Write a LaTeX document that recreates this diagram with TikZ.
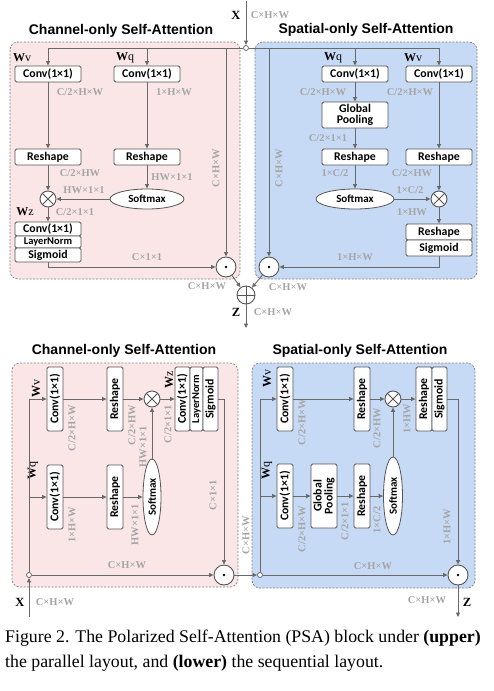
\documentclass[tikz,border=0pt]{standalone}
\usepackage{fontspec}
\setmainfont{Liberation Serif}
\newfontfamily\boxff{Carlito}
\newfontfamily\titleff{Liberation Sans}
\usetikzlibrary{arrows.meta,shapes.geometric,calc}
\definecolor{pinkbg}{RGB}{250,230,230}
\definecolor{bluebg}{RGB}{198,217,245}
\definecolor{lnc}{RGB}{105,105,105}
\definecolor{bxc}{RGB}{85,85,85}
\definecolor{lblc}{RGB}{165,165,165}
\definecolor{dashc}{RGB}{130,130,130}
\tikzset{
 bgbox/.style={draw=dashc, dash pattern=on 2pt off 1.5pt, line width=0.7pt, rounded corners=8pt},
 ttl/.style={inner sep=0pt, font={\titleff\bfseries\fontsize{14}{15}\selectfont}},
 bx/.style={draw=bxc, fill=white, rounded corners=1.5pt, line width=0.8pt, inner sep=0pt,
   font={\boxff\bfseries\fontsize{11.8}{12}\selectfont}, minimum width=66pt, minimum height=16pt},
 smallbx/.style={bx, font={\boxff\bfseries\fontsize{10.5}{11}\selectfont}},
 rbx/.style={bx, rotate=90, minimum width=64pt},
 elp/.style={ellipse, draw=bxc, fill=white, line width=0.8pt, inner sep=0pt,
   font={\boxff\bfseries\fontsize{11}{12}\selectfont}},
 ln/.style={draw=lnc, line width=0.9pt},
 arr/.style={ln, -{Triangle[length=4.5pt,width=4pt]}},
 spt/.style={circle, draw=lnc, fill=white, line width=0.8pt, inner sep=0pt, minimum size=5pt},
 odt/.style={circle, draw=bxc, fill=white, line width=0.9pt, inner sep=0pt, minimum size=20pt,
   path picture={\fill[black] (path picture bounding box.center) circle (1.3pt);}},
 otm/.style={circle, draw=bxc, fill=white, line width=0.9pt, inner sep=0pt, minimum size=16pt,
   path picture={\draw[bxc, line width=0.9pt] (path picture bounding box.south west) -- (path picture bounding box.north east) (path picture bounding box.north west) -- (path picture bounding box.south east);}},
 opl/.style={circle, draw=bxc, fill=white, line width=0.9pt, inner sep=0pt, minimum size=18pt,
   path picture={\draw[bxc, line width=0.9pt] (path picture bounding box.north) -- (path picture bounding box.south) (path picture bounding box.west) -- (path picture bounding box.east);}},
 lbl/.style={text=lblc, inner sep=0pt, font={\bfseries\fontsize{10.5}{11}\selectfont}},
 vlbl/.style={lbl, rotate=90},
 wl/.style={inner sep=0pt, font={\fontsize{12}{12}\selectfont}},
 vwl/.style={wl, rotate=90},
 xl/.style={inner sep=0pt, font={\bfseries\fontsize{12.5}{13}\selectfont}},
 captxt/.style={inner sep=0pt, font={\fontsize{17.8}{20}\selectfont}}
}
\begin{document}
\begin{tikzpicture}[x=1pt,y=-1pt]
\useasboundingbox (0,0) rectangle (494,691);
% backgrounds
\draw[bgbox, fill=pinkbg] (10,42) rectangle (240,279);
\draw[bgbox, fill=bluebg] (255,42) rectangle (477,279);
\draw[bgbox, fill=pinkbg] (12,363) rectangle (238,587);
\draw[bgbox, fill=bluebg] (252,363) rectangle (475,588);
% titles
\node[ttl] (t1) at (121,31) {Channel-only Self-Attention};
\node[ttl] (t2) at (366,30) {Spatial-only Self-Attention};
\node[ttl] (t3) at (124,351) {Channel-only Self-Attention};
\node[ttl] (t4) at (360,351) {Spatial-only Self-Attention};

% ===== UPPER =====
\coordinate (xin) at (246,1);
\node[spt] (sp1) at (246,48) {};
\node[xl] (xlab) at (236,15) {X};
\node[lbl] (xdim) at (270,15) {C×H×W};
% left nodes
\node[bx] (cv1) at (48,74) {Conv(1×1)};
\node[bx] (cq1) at (147,74) {Conv(1×1)};
\node[wl] (wv1) at (22,58) {\textbf{W}v};
\node[wl] (wq1) at (125,58) {\textbf{W}q};
\node[lbl] at (80,92) {C/2×H×W};
\node[lbl] at (174,92) {1×H×W};
\node[bx] (rs1) at (48,157) {Reshape};
\node[bx] (rs2) at (147,157) {Reshape};
\node[lbl] at (80,173) {C/2×HW};
\node[lbl] at (172,177) {HW×1×1};
\node[lbl] at (84,190) {HW×1×1};
\node[otm] (ot1) at (48,199) {};
\node[elp, minimum width=74pt, minimum height=20pt] (sm1) at (147,199) {Softmax};
\node[wl] (wz1) at (25,212) {\textbf{W}z};
\node[lbl] at (75,212) {C/2×1×1};
\node[bx, minimum height=14pt] (cz1) at (48,229) {Conv(1×1)};
\node[smallbx, minimum height=12pt] (ln1) at (48,242) {LayerNorm};
\node[bx, minimum height=14pt] (sg1) at (48,255) {Sigmoid};
\node[odt] (od1) at (226,267) {};
\node[lbl] at (147,257) {C×1×1};
\node[vlbl] at (216,168) {C×H×W};
% right nodes
\node[bx] (cq2) at (355,74) {Conv(1×1)};
\node[bx] (cv2) at (439,74) {Conv(1×1)};
\node[wl] (wq2) at (333,58) {\textbf{W}q};
\node[wl] (wv2) at (413,58) {\textbf{W}v};
\node[lbl] at (323,92) {C/2×H×W};
\node[lbl] at (410,92) {C/2×H×W};
\node[bx, minimum height=26pt, align=center] (gp1) at (355,115) {Global\\[-1pt]Pooling};
\node[lbl] at (328,138) {C/2×1×1};
\node[bx] (rs3) at (355,157) {Reshape};
\node[bx] (rs4) at (439,157) {Reshape};
\node[lbl] at (335,173) {1×C/2};
\node[lbl] at (412,173) {C/2×HW};
\node[elp, minimum width=78pt, minimum height=20pt] (sm2) at (355,199) {Softmax};
\node[otm] (ot2) at (439,199) {};
\node[lbl] at (410,190) {1×C/2};
\node[lbl] at (412,212) {1×HW};
\node[bx] (rs5) at (439,232) {Reshape};
\node[bx] (sg2) at (439,248) {Sigmoid};
\node[odt] (od2) at (269,267) {};
\node[lbl] at (355,257) {1×H×W};
\node[vlbl] at (279,168) {C×H×W};
% fusion
\node[opl] (op1) at (246,295) {};
\coordinate (zout1) at (246,328);
\node[lbl] at (207,286) {C×H×W};
\node[lbl] at (288,287) {C×H×W};
\node[xl] (zlab1) at (236,312) {Z};
\node[lbl] at (273,312) {C×H×W};
% junctions
\coordinate (a1) at (48,48);
\coordinate (a2) at (147,48);
\coordinate (a3) at (226,48);
\coordinate (a4) at (269,48);
\coordinate (a5) at (355,48);
\coordinate (a6) at (439,48);
% connectors upper
\draw[arr] (xin) -- (sp1);
\draw[ln] (sp1) -- (a1);
\draw[ln] (sp1) -- (a6);
\draw[arr] (a1) -- (cv1);
\draw[arr] (a2) -- (cq1);
\draw[arr] (a3) -- (od1);
\draw[arr] (a4) -- (od2);
\draw[arr] (a5) -- (cq2);
\draw[arr] (a6) -- (cv2);
\draw[arr] (cv1) -- (rs1);
\draw[arr] (rs1) -- (ot1);
\draw[arr] (cq1) -- (rs2);
\draw[arr] (rs2) -- (sm1);
\draw[arr] (sm1) -- (ot1);
\draw[arr] (ot1) -- (cz1);
\draw[arr] (sg1) |- (od1);
\draw[arr] (cq2) -- (gp1);
\draw[arr] (gp1) -- (rs3);
\draw[arr] (rs3) -- (sm2);
\draw[arr] (sm2) -- (ot2);
\draw[arr] (cv2) -- (rs4);
\draw[arr] (rs4) -- (ot2);
\draw[arr] (ot2) -- (rs5);
\draw[arr] (sg2) |- (od2);
\draw[arr] (od1) -- (op1);
\draw[arr] (od2) -- (op1);
\draw[arr] (op1) -- (zout1);

% ===== LOWER =====
\coordinate (xin2) at (29,617);
\node[spt] (sp2) at (29,575) {};
\node[xl] (xlab2) at (20,602) {X};
\node[lbl] at (55,602) {C×H×W};
\coordinate (j1) at (29,399);
\coordinate (j2) at (29,497);
% left
\node[rbx] (cv3) at (55,399) {Conv(1×1)};
\node[vwl] (wv3) at (36,388) {\textbf{W}v};
\node[vlbl] at (72,428) {C/2×H×W};
\node[rbx] (rs6) at (115,399) {Reshape};
\node[vlbl] at (132,425) {C/2×HW};
\node[vlbl] at (143,447) {HW×1×1};
\node[otm] (ot3) at (152,399) {};
\node[vwl] (wz3) at (169,380) {\textbf{W}z};
\node[vlbl] at (168,424) {C/2×1×1};
\node[rbx, minimum height=15pt] (cz3) at (182.5,399) {Conv(1×1)};
\node[smallbx, rotate=90, minimum width=64pt, minimum height=13pt] (ln3) at (196.5,399) {LayerNorm};
\node[rbx, minimum height=15pt] (sg3) at (210.5,399) {Sigmoid};
\node[vlbl] at (213,495) {C×1×1};
\node[rbx] (cq3) at (55,497) {Conv(1×1)};
\node[vwl] (wq3) at (33,470) {\textbf{W}q};
\node[vlbl] at (72,525) {1×H×W};
\node[rbx] (rs7) at (115,497) {Reshape};
\node[vlbl] at (135,525) {HW×1×1};
\node[elp, rotate=90, minimum width=76pt, minimum height=18pt] (sm3) at (152,497) {Softmax};
\node[odt] (od3) at (224,575) {};
\node[lbl] at (127,565) {C×H×W};
\node[vlbl] at (246,535) {C×H×W};
% right
\node[spt] (sp3) at (260,575) {};
\coordinate (j3) at (260,399);
\coordinate (j4) at (260,496);
\node[rbx] (cv4) at (285,399) {Conv(1×1)};
\node[vwl] (wv4) at (267,378) {\textbf{W}v};
\node[vlbl] at (302,422) {C/2×H×W};
\node[rbx] (rs8) at (362,399) {Reshape};
\node[vlbl] at (377,428) {C/2×HW};
\node[otm] (ot4) at (393,399) {};
\node[vlbl] at (407,419) {1×HW};
\node[rbx] (rs9) at (424,399) {Reshape};
\node[rbx, minimum height=15pt] (sg4) at (439.5,399) {Sigmoid};
\node[vlbl] at (447,527) {1×H×W};
\node[rbx] (cq4) at (285,496) {Conv(1×1)};
\node[vwl] (wq4) at (267,470) {\textbf{W}q};
\node[vlbl] at (302,529) {C/2×H×W};
\node[rbx, minimum height=26pt, align=center] (gp2) at (324,496) {Global\\[-1pt]Pooling};
\node[vlbl] at (345,521) {C/2×1×1};
\node[rbx] (rs10) at (362,496) {Reshape};
\node[vlbl] at (377,520) {1×C/2};
\node[elp, rotate=90, minimum width=78pt, minimum height=19pt] (sm4) at (393,496) {Softmax};
\node[odt] (od4) at (458,575) {};
\node[lbl] at (373,566) {C×H×W};
\coordinate (zout2) at (458,617);
\node[xl] (zlab2) at (467,602) {Z};
\node[lbl] at (427,600) {C×H×W};
% connectors lower
\draw[arr] (xin2) -- (sp2);
\draw[ln] (sp2) -- (j1);
\draw[arr] (j1) -- (cv3);
\draw[arr] (j2) -- (cq3);
\draw[arr] (cv3) -- (rs6);
\draw[arr] (rs6) -- (ot3);
\draw[arr] (ot3) -- (cz3);
\draw[arr] (sg3) -| (od3);
\draw[arr] (cq3) -- (rs7);
\draw[arr] (rs7) -- (sm3);
\draw[arr] (sm3) -- (ot3);
\draw[arr] (sp2) -- (od3);
\draw[arr] (od3) -- (sp3);
\draw[ln] (sp3) -- (j3);
\draw[arr] (j3) -- (cv4);
\draw[arr] (j4) -- (cq4);
\draw[arr] (cv4) -- (rs8);
\draw[arr] (rs8) -- (ot4);
\draw[arr] (ot4) -- (rs9);
\draw[arr] (sg4) -| (od4);
\draw[arr] (cq4) -- (gp2);
\draw[arr] (gp2) -- (rs10);
\draw[arr] (rs10) -- (sm4);
\draw[arr] (sm4) -- (ot4);
\draw[arr] (sp3) -- (od4);
\draw[arr] (od4) -- (zout2);

% caption
\node[captxt, anchor=base west] (c1) at (5,642) {Figure 2. The Polarized Self-Attention (PSA) block under \textbf{(upper)}};
\node[captxt, anchor=base west] (c2) at (5,667) {the parallel layout, and \textbf{(lower)} the sequential layout.};
\end{tikzpicture}
\end{document}
